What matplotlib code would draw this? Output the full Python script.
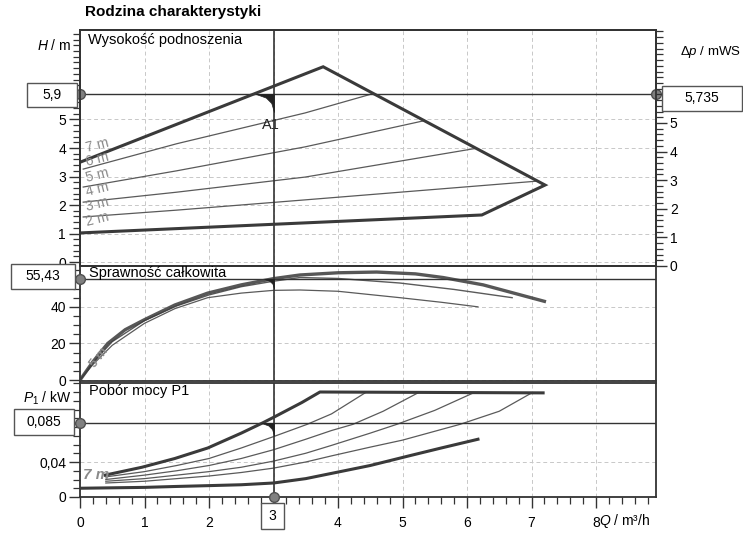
import matplotlib
matplotlib.use("Agg")
import matplotlib.pyplot as plt
from matplotlib.patches import Rectangle
from matplotlib.ticker import MultipleLocator

plt.rcParams['font.family'] = ['Liberation Sans', 'DejaVu Sans']
plt.rcParams['mathtext.fontset'] = 'custom'
plt.rcParams['mathtext.rm'] = 'Liberation Sans'
plt.rcParams['mathtext.it'] = 'Liberation Sans:italic'

# ---------------- data ----------------
# Head panel (H / m)
q_env = [0, 3.77, 7.21, 6.23, 0]
h_env = [3.5, 6.85, 2.7, 1.65, 1.02]
q_h1 = [0.05, 1.5, 3.49, 4.53]; h_h1 = [3.26, 4.15, 5.23, 5.9]
q_h2 = [0.05, 1.5, 3.49, 5.32]; h_h2 = [2.63, 3.2, 4.04, 4.95]
q_h3 = [0.05, 1.5, 3.49, 6.12]; h_h3 = [2.1, 2.45, 2.98, 3.98]
q_h4 = [0.05, 1.5, 3.49, 7.1];  h_h4 = [1.58, 1.82, 2.18, 2.84]
head_labels = ["7 m", "6 m", "5 m", "4 m", "3 m", "2 m"]
head_label_y = [4.1, 3.62, 3.05, 2.56, 2.02, 1.5]
H_op = 5.9
dp_op = "5,735"

# Efficiency panel (%)
q_eta_max = [0, 0.2, 0.43, 0.7, 1.0, 1.47, 1.98, 2.5, 3.0, 3.41, 4.0, 4.6, 5.2, 5.63, 6.25, 7.2]
eta_max = [0, 10, 20, 27.5, 33, 41, 47.5, 52, 55.4, 57.4, 58.6, 59, 58, 56, 52, 43]
q_eta_a = [0, 0.2, 0.5, 1.0, 1.5, 2.0, 2.5, 3.0, 3.41, 4.0, 4.96, 5.8, 6.7]
eta_a = [0, 9.5, 21, 32.5, 40.5, 46.5, 51, 54, 56, 55.5, 53, 49.5, 45]
q_eta_b = [0, 0.2, 0.5, 1.0, 1.47, 1.98, 2.5, 3.0, 3.41, 4.0, 4.96, 5.6, 6.17]
eta_b = [0, 8.5, 19, 31, 39, 45, 47.5, 49, 49.2, 48.5, 45, 42.5, 40]
eta_op = 55.43

# Power panel (P1 / kW)
q_p_max = [0.39, 0.96, 1.47, 1.98, 2.5, 2.84, 3.0, 3.44, 3.72, 7.18]
p_max = [0.025, 0.034, 0.044, 0.056, 0.073, 0.085, 0.091, 0.108, 0.120, 0.119]
q_p1 = [0.4, 1.0, 1.5, 2.0, 2.5, 3.0, 3.52, 3.9, 4.42]
p_1 = [0.023, 0.029, 0.036, 0.044, 0.056, 0.069, 0.083, 0.095, 0.119]
q_p2 = [0.4, 1.0, 1.5, 2.0, 2.5, 3.0, 3.5, 3.9, 4.23, 4.7, 5.24]
p_2 = [0.020, 0.025, 0.030, 0.036, 0.044, 0.054, 0.066, 0.076, 0.083, 0.098, 0.119]
q_p3 = [0.4, 1.0, 1.5, 2.0, 2.5, 3.0, 3.5, 3.9, 4.5, 4.91, 5.5, 6.1]
p_3 = [0.018, 0.021, 0.025, 0.029, 0.034, 0.041, 0.050, 0.059, 0.073, 0.083, 0.099, 0.119]
q_p4 = [0.4, 1.0, 1.5, 2.0, 2.5, 3.0, 3.5, 3.9, 4.5, 5.0, 5.89, 6.5, 6.98]
p_4 = [0.016, 0.018, 0.021, 0.024, 0.028, 0.033, 0.040, 0.047, 0.057, 0.065, 0.083, 0.098, 0.118]
q_p_min = [0, 1.0, 1.47, 2.0, 2.5, 3.0, 3.5, 3.9, 4.5, 5.1, 5.6, 6.17]
p_min = [0.010, 0.011, 0.012, 0.013, 0.014, 0.016, 0.021, 0.027, 0.036, 0.047, 0.056, 0.066]
p_op = 0.085
Q_op = 3

x_ticks = [0, 1, 2, 3, 4, 5, 6, 7, 8]
x_labels = ["0", "1", "2", "", "4", "5", "6", "7", "8"]

# ---------------- layout ----------------
W, H = 743, 539
fig = plt.figure(figsize=(W / 100, H / 100), dpi=100)

def fx(px):
    return px / W

def fy(py):
    return 1 - py / H

XL, XR = 80, 656
xlim = (0, (XR - XL) / 64.5)

def make_ax(ptop, pbot):
    return fig.add_axes([fx(XL), fy(pbot), fx(XR) - fx(XL), fy(ptop) - fy(pbot)])

ax1 = make_ax(30, 266)
ax2 = make_ax(266, 381)
ax3 = make_ax(383, 497)

DARK = '#3a3a3a'
THIN = '#5a5a5a'
GRID = '#c8c8c8'
LAB = '#8a8a8a'
# operating-point wedge marker shape (corner at the data point)
OPM = [(0, 0), (-1, 0), (-0.45, -0.2), (-0.15, -0.5), (0, -1), (0, 0)]

for ax in (ax1, ax2, ax3):
    ax.set_xlim(*xlim)
    ax.xaxis.set_major_locator(MultipleLocator(1))
    ax.grid(True, color=GRID, lw=0.7, ls=(0, (4, 3)))
    for s in ax.spines.values():
        s.set_color('#333333')
        s.set_linewidth(1.3)
    ax.tick_params(axis='y', which='major', direction='out', length=8, width=1,
                   labelsize=10, color='#333333', pad=2)
    ax.tick_params(axis='y', which='minor', direction='out', length=5, width=0.9,
                   color='#333333')
    ax.axvline(Q_op, color='#333333', lw=1.2, zorder=4)

for ax in (ax1, ax2):
    ax.tick_params(axis='x', which='both', length=0, labelbottom=False)

# ---- head panel ----
ax1.set_ylim(-0.14, 8.14)
ax1.set_yticks([0, 1, 2, 3, 4, 5])
ax1.yaxis.set_minor_locator(MultipleLocator(0.2))
ax1.plot(q_env, h_env, color=DARK, lw=2.2, solid_joinstyle='miter', zorder=5)
for qq, hh in ((q_h1, h_h1), (q_h2, h_h2), (q_h3, h_h3), (q_h4, h_h4)):
    ax1.plot(qq, hh, color=THIN, lw=0.9, zorder=3)
for lab, yy in zip(head_labels, head_label_y):
    ax1.text(0.06, yy, lab, color=LAB, fontsize=10, rotation=14,
             ha='left', va='center', zorder=6)
ax1.axhline(H_op, color='#333333', lw=1.0, zorder=4)
ax1.plot([Q_op], [H_op], marker=OPM, ms=26, color='#222222', mew=0.5, zorder=7)
ax1.text(2.96, 4.82, "A1", fontsize=10.5, ha='center', va='center', color='#222222')
ax1.plot([0], [H_op], 'o', ms=7, mfc='#808080', mec='#505050', clip_on=False, zorder=8)

ax1r = ax1.twinx()
ax1r.set_ylim(0, (266 - 30) / 28.6)
ax1r.set_yticks([0, 1, 2, 3, 4, 5])
ax1r.yaxis.set_minor_locator(MultipleLocator(0.2))
ax1r.tick_params(axis='y', which='major', direction='out', length=8, width=1,
                 labelsize=10, color='#333333', pad=2)
ax1r.tick_params(axis='y', which='minor', direction='out', length=5, width=0.9,
                 color='#333333')
for s in ax1r.spines.values():
    s.set_color('#333333')
    s.set_linewidth(1.3)
ax1.plot([xlim[1]], [H_op], 'o', ms=7, mfc='#808080', mec='#505050', clip_on=False, zorder=8)

# ---- efficiency panel ----
ax2.set_ylim(-0.5, 62.3)
ax2.set_yticks([0, 20, 40])
ax2.yaxis.set_minor_locator(MultipleLocator(5))
ax2.plot(q_eta_b, eta_b, color=THIN, lw=0.9, zorder=3)
ax2.plot(q_eta_a, eta_a, color=THIN, lw=1.0, zorder=3)
ax2.plot(q_eta_max, eta_max, color=DARK, lw=2.4, alpha=0.85, zorder=5)
ax2.axhline(eta_op, color='#333333', lw=1.0, zorder=4)
ax2.plot([Q_op], [eta_op], marker=OPM, ms=14, color='#222222', mew=0.5, zorder=7)
ax2.text(0.3, 12, "5 m", color=LAB, fontsize=9, fontweight='bold', rotation=52,
         ha='center', va='center', zorder=6)
ax2.plot([0], [eta_op], 'o', ms=7, mfc='#808080', mec='#505050', clip_on=False, zorder=8)

# ---- power panel ----
ax3.set_ylim(0, (497 - 383) / 875)
ax3.set_yticks([0, 0.04], labels=["0", "0,04"])
ax3.yaxis.set_minor_locator(MultipleLocator(0.01))
ax3.set_xticks(x_ticks, labels=x_labels)
ax3.xaxis.set_minor_locator(MultipleLocator(0.2))
ax3.tick_params(axis='x', which='major', direction='out', length=8, width=1,
                labelsize=10, color='#333333', pad=6)
ax3.tick_params(axis='x', which='minor', direction='out', length=5, width=0.9,
                color='#333333')
ax3.plot(q_p_max, p_max, color=DARK, lw=2.2, zorder=5)
for qq, pp in ((q_p1, p_1), (q_p2, p_2), (q_p3, p_3), (q_p4, p_4)):
    ax3.plot(qq, pp, color=THIN, lw=0.9, zorder=3)
ax3.plot(q_p_min, p_min, color=DARK, lw=2.2, zorder=5)
ax3.axhline(p_op, color='#333333', lw=1.0, zorder=4)
ax3.plot([Q_op], [p_op], marker=OPM, ms=18, color='#222222', mew=0.5, zorder=7)
ax3.text(0.05, 0.025, "7 m", color=LAB, fontsize=11, fontweight='bold',
         fontstyle='italic', ha='left', va='center', zorder=6)
ax3.plot([0], [p_op], 'o', ms=7, mfc='#808080', mec='#505050', clip_on=False, zorder=8)
ax3.plot([Q_op], [0], 'o', ms=7, mfc='#808080', mec='#505050', clip_on=False, zorder=8)

# ---------------- texts ----------------
fig.text(fx(85), fy(12), "Rodzina charakterystyki", fontsize=11, fontweight='bold',
         ha='left', va='center')
fig.text(fx(88), fy(40), "Wysokość podnoszenia", fontsize=10.5, ha='left', va='center')
fig.text(fx(89), fy(273), "Sprawność całkowita", fontsize=10.5, ha='left', va='center')
fig.text(fx(89), fy(391), "Pobór mocy P1", fontsize=10.5, ha='left', va='center')
fig.text(fx(71), fy(45), "$H$ / m", fontsize=10, ha='right', va='center')
fig.text(fx(741), fy(52), r"$\Delta p$ / mWS", fontsize=9.5, ha='right', va='center')
fig.text(fx(72), fy(398), "$P_1$ / kW", fontsize=10, ha='right', va='center')
fig.text(fx(599), fy(521), "$Q$ / m³/h", fontsize=10, ha='left', va='center')

def box(x0, y0, x1, y1, txt):
    fig.add_artist(Rectangle((fx(x0), fy(y1)), fx(x1) - fx(x0), fy(y0) - fy(y1),
                             transform=fig.transFigure, facecolor='white',
                             edgecolor='#555555', lw=1.0, zorder=10))
    fig.text(fx((x0 + x1) / 2), fy((y0 + y1) / 2), txt, fontsize=10,
             ha='center', va='center', zorder=11)

box(27, 83, 77, 107, "5,9")
box(662, 86, 742, 111, dp_op)
box(11, 264, 75, 289, "55,43")
box(14, 409, 74, 435, "0,085")
box(261, 503, 284, 529, "3")

fig.savefig("out.png", dpi=100)
